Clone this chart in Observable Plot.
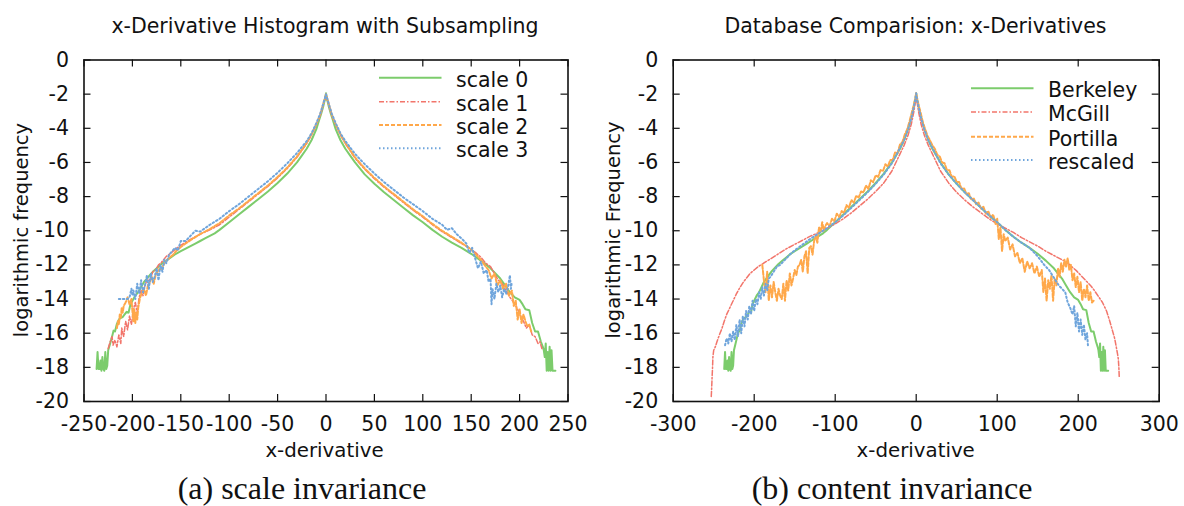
<!DOCTYPE html>
<html><head><meta charset="utf-8">
<script src="https://cdn.jsdelivr.net/npm/d3@7"></script>
<script src="https://cdn.jsdelivr.net/npm/@observablehq/plot@0.6"></script>
<style>
html,body{margin:0;padding:0;background:#fff;}
#wrap{position:relative;width:1184px;height:506px;overflow:hidden;background:#fff;}
#wrap svg{position:absolute;top:0;}
</style></head><body><div id="wrap"></div>
<script>
// ---------- tick values ----------
const yTicks = [0,-2,-4,-6,-8,-10,-12,-14,-16,-18,-20];
const xTicksA = [-250,-200,-150,-100,-50,0,50,100,150,200,250];
const xTicksB = [-300,-200,-100,0,100,200,300];

// ---------- panel (a): scale 0 (also Berkeley in panel b) ----------
const scale0X = [-237,-236,-235,-234,-233,-232,-231,-230,-229,-228,-227,-226,-225,-223,-221,-219.5,-218,-216,-214,-212,-210,-208,-206,-204,-202,-200,-197,-194,-191,-188,-185,-182,-178,-174,-170,-165,-160,-155,-150,-145,-140,-135,-130,-125,-120,-115,-110,-100,-90,-80,-70,-60,-50,-40,-30,-25,-20,-15,-10,-7,-5,-3,-2,-1,0,
  1,2,3,5,7,10,15,20,25,30,40,50,60,70,80,90,100,110,120,130,140,150,160,170,180,185,190,195,200,203,206,210,213,216,219,222,224,225,226,227,228,229,230,231,232,233,234,235,236,237];
const scale0Y = [-18.1,-17.1,-18.1,-18.1,-17.6,-18.2,-17.4,-18.1,-18.2,-17.1,-18.1,-17.9,-17.0,-16.6,-16.2,-15.85,-15.9,-15.45,-15.2,-15.1,-15.05,-14.9,-14.75,-14.8,-14.3,-14.1,-13.8,-13.6,-13.3,-13.0,-12.8,-12.6,-12.35,-12.15,-11.95,-11.75,-11.55,-11.35,-11.2,-11.05,-10.9,-10.75,-10.6,-10.45,-10.3,-10.15,-9.95,-9.5,-9.05,-8.6,-8.15,-7.7,-7.2,-6.65,-6.0,-5.6,-5.2,-4.7,-4.05,-3.5,-3.15,-2.75,-2.5,-2.3,-1.95,
  -2.3,-2.5,-2.75,-3.15,-3.5,-4.05,-4.7,-5.2,-5.6,-6.0,-6.7,-7.25,-7.75,-8.2,-8.65,-9.1,-9.5,-9.95,-10.35,-10.7,-11.0,-11.35,-11.75,-12.2,-12.8,-13.2,-13.6,-13.9,-14.05,-14.3,-14.6,-14.65,-15.4,-15.9,-15.9,-16.5,-16.8,-17.0,-17.4,-16.6,-18.2,-17.1,-18.2,-16.8,-18.2,-17.0,-18.2,-18.2,-18.2,-18.2];

const scale1X = [-225,-223,-221,-220,-218,-216,-214,-212,-211,-209,-207,-205,-203,-201,-199,-197,-195,-193,-191,-189,-187,-185,-182,-179,-176,-173,-170,-165,-160,-155,-150,-140,-130,-120,-110,-100,-90,-80,-70,-60,-50,-40,-30,-20,-15,-10,-6,-3,-1,0,
  1,3,6,10,15,20,30,40,50,60,70,80,90,100,110,120,130,140,145,150,155,160,165,170,174,178,182,186,190,194,198,201,204,207,210,213,216,219,221,223];
const scale1Y = [-16.9,-16.5,-16.2,-16.7,-16.4,-16.8,-16.1,-16.6,-15.7,-16.2,-15.3,-15.8,-15.0,-15.5,-14.6,-14.2,-14.8,-13.9,-13.5,-13.8,-13.2,-12.9,-12.9,-12.4,-12.3,-12.0,-11.85,-11.5,-11.3,-11.05,-10.85,-10.5,-10.2,-9.95,-9.65,-9.2,-8.75,-8.3,-7.85,-7.4,-6.9,-6.35,-5.7,-4.9,-4.4,-3.8,-3.25,-2.65,-2.25,-2.0,
  -2.25,-2.65,-3.25,-3.8,-4.4,-4.9,-5.75,-6.4,-6.95,-7.45,-7.9,-8.35,-8.8,-9.2,-9.65,-10.05,-10.4,-10.75,-10.9,-11.1,-11.3,-11.55,-11.9,-12.1,-12.5,-12.9,-13.1,-13.5,-13.9,-14.2,-14.6,-15.0,-15.3,-15.7,-15.5,-16.1,-16.2,-16.6,-16.5,-16.9];

const scale2X = [-216,-215,-214,-213,-212,-211,-210,-209,-207,-205,-203,-201,-200,-199,-198,-197,-196,-195,-194,-192,-190,-188,-186,-184,-182,-180,-178,-176,-174,-172,-170,-167,-164,-161,-158,-155,-150,-145,-140,-130,-120,-110,-100,-90,-80,-70,-60,-50,-40,-30,-20,-15,-10,-6,-3,-1,0,
  1,3,6,10,15,20,30,40,50,60,70,80,90,100,110,120,130,140,145,150,155,160,165,168,171,174,177,180,183,186,189,192,194,196,198,200,202,204,206,208,210,212];
const scale2Y = [-15.7,-15.3,-15.5,-14.9,-15.1,-14.5,-14.8,-14.4,-14.2,-13.9,-14.3,-14.0,-14.7,-15.3,-14.6,-15.4,-14.8,-15.2,-14.5,-13.9,-13.6,-13.4,-13.8,-13.2,-13.0,-12.7,-13.1,-12.6,-12.4,-12.2,-12.25,-11.9,-11.7,-11.55,-11.4,-11.2,-10.95,-10.75,-10.55,-10.2,-9.9,-9.55,-9.1,-8.7,-8.25,-7.8,-7.35,-6.85,-6.3,-5.65,-4.85,-4.35,-3.75,-3.2,-2.6,-2.2,-2.0,
  -2.2,-2.6,-3.2,-3.75,-4.35,-4.85,-5.7,-6.35,-6.9,-7.4,-7.85,-8.3,-8.75,-9.15,-9.6,-10.0,-10.35,-10.7,-10.9,-11.1,-11.4,-11.7,-12.1,-12.3,-12.8,-12.5,-13.2,-12.9,-13.4,-13.1,-13.8,-13.5,-14.4,-14.1,-15.2,-14.6,-15.4,-14.9,-15.3,-15.6,-15.5,-15.9];

const scale3X = [-214,-211,-208,-205,-203,-201,-200,-199,-197,-195,-193,-191,-189,-187,-185,-183,-181,-179,-177,-175,-173,-171,-169,-167,-165,-162,-159,-156,-153,-150,-145,-140,-135,-130,-120,-110,-100,-90,-80,-70,-60,-50,-40,-30,-20,-15,-10,-6,-3,-1,0,
  1,3,6,10,15,20,30,40,50,60,70,80,90,100,110,120,125,130,135,140,145,148,151,154,157,160,163,166,168,170,171,172,174,176,178,180,182,184,186,188,190,191,192];
const scale3Y = [-14.0,-14.0,-14.0,-14.0,-13.9,-13.4,-13.8,-13.5,-14.0,-13.1,-13.7,-12.9,-13.6,-13.2,-12.6,-13.4,-12.5,-13.0,-12.7,-12.2,-12.9,-12.0,-12.4,-11.7,-11.9,-11.4,-11.2,-11.0,-11.15,-10.6,-10.6,-10.3,-10.0,-10.05,-9.65,-9.3,-8.85,-8.45,-8.0,-7.55,-7.1,-6.6,-6.05,-5.45,-4.75,-4.3,-3.7,-3.15,-2.6,-2.2,-2.0,
  -2.2,-2.6,-3.15,-3.7,-4.3,-4.75,-5.5,-6.1,-6.65,-7.15,-7.6,-8.05,-8.45,-8.85,-9.3,-9.65,-9.95,-9.85,-10.2,-10.45,-10.75,-11.3,-11.0,-11.6,-12.2,-11.8,-12.5,-12.3,-13.0,-12.8,-14.3,-13.4,-14.0,-13.1,-13.6,-13.2,-13.9,-13.4,-13.7,-13.3,-12.6,-13.4,-13.0];

// ---------- panel (b) ----------
const berkeleyX = scale0X;
const berkeleyY = scale0Y;

const mcgillX = [-253,-252.5,-252,-251.5,-251,-250,-248,-246,-243,-240,-237,-234,-230,-226,-222,-218,-214,-210,-205,-200,-195,-190,-185,-180,-175,-170,-160,-150,-140,-130,-120,-110,-100,-90,-80,-70,-60,-50,-40,-30,-20,-15,-10,-6,-3,-1,0,
  1,3,6,10,15,20,30,40,50,60,70,80,90,100,110,120,130,140,150,160,170,180,186,192,198,204,210,216,220,225,230,235,239,242,245,247,248.5,249.5,250.2,250.7];
const mcgillY = [-19.7,-19.2,-18.6,-18.1,-17.4,-17.0,-16.8,-16.5,-16.1,-15.75,-15.3,-14.9,-14.5,-14.1,-13.7,-13.35,-13.05,-12.8,-12.5,-12.3,-12.1,-11.95,-11.8,-11.65,-11.5,-11.35,-11.05,-10.8,-10.55,-10.3,-10.1,-9.85,-9.6,-9.3,-8.95,-8.55,-8.15,-7.7,-7.2,-6.5,-5.5,-5.0,-4.4,-3.75,-3.05,-2.45,-1.95,
  -2.45,-3.05,-3.75,-4.4,-5.0,-5.5,-6.5,-7.2,-7.75,-8.2,-8.6,-8.95,-9.3,-9.6,-9.85,-10.1,-10.4,-10.65,-10.9,-11.2,-11.45,-11.7,-11.85,-12.1,-12.35,-12.65,-12.95,-13.25,-13.5,-13.85,-14.2,-14.7,-15.3,-15.8,-16.3,-16.8,-17.2,-17.5,-18.0,-18.6];

const portillaX = [-190,-188,-186,-184,-182,-180,-178,-176,-174,-172,-170,-168,-166,-164,-162,-160,-158,-156,-154,-152,-150,-148,-146,-144,-142,-140,-138,-136,-134,-132,-130,-128,-126,-124,-122,-120,-118,-116,-114,-112,
  -110,-107,-104,-101,-98,-95,-92,-89,-86,-83,-80,-77,-74,-71,-68,-65,-62,-59,-56,-53,-50,-47,-44,-41,-38,-35,-32,-29,-26,-23,-20,-17,-14,-11,-8,-5,-3,-1,0,
  1,3,5,8,11,14,17,20,23,26,29,32,35,38,41,44,47,50,53,56,59,62,65,68,71,74,77,80,83,86,89,92,95,
  98,100,102,104,106,108,110,113,116,119,122,125,128,131,134,137,140,143,146,149,152,155,157,159,161,163,165,167,169,171,173,175,177,179,181,183,185,187,189,191,193,195,197,199,201,203,205,207,209,211,213,215,217,219];
const portillaY = [-12.0,-12.9,-13.6,-12.4,-14.1,-13.2,-13.9,-13.0,-13.6,-14.1,-13.4,-13.8,-14.0,-13.1,-14.1,-12.9,-13.5,-12.5,-13.2,-12.8,-12.3,-12.6,-12.1,-12.0,-11.7,-12.4,-11.5,-11.2,-12.5,-11.0,-10.9,-11.4,-10.6,-10.3,-10.7,-9.8,-10.1,-9.5,-10.0,-9.7,
  -9.55,-9.75,-9.3,-9.45,-9.0,-9.2,-8.85,-8.95,-8.5,-8.65,-8.2,-8.35,-7.95,-8.05,-7.7,-7.75,-7.35,-7.55,-7.05,-7.15,-6.75,-6.85,-6.45,-6.5,-6.1,-6.25,-5.85,-5.85,-5.4,-5.45,-4.95,-4.8,-4.35,-4.05,-3.55,-3.0,-2.65,-2.2,-1.95,
  -2.2,-2.65,-3.0,-3.6,-4.05,-4.45,-4.7,-5.0,-5.2,-5.55,-5.65,-6.0,-6.05,-6.45,-6.45,-6.85,-6.8,-7.15,-7.15,-7.55,-7.5,-7.85,-7.8,-8.15,-8.1,-8.45,-8.35,-8.7,-8.6,-9.0,-8.85,-9.25,-9.05,
  -9.6,-9.3,-10.5,-9.8,-11.2,-10.2,-10.6,-10.4,-11.1,-10.8,-11.5,-11.3,-11.9,-11.6,-12.4,-11.8,-12.2,-11.9,-12.5,-12.1,-12.7,-12.3,-13.6,-12.8,-14.1,-12.9,-13.4,-12.6,-14.1,-12.8,-13.2,-12.2,-12.7,-11.9,-12.4,-11.7,-12.1,-11.6,-12.3,-12.0,-12.9,-12.5,-13.3,-12.7,-13.6,-13.0,-14.1,-13.4,-13.9,-13.2,-14.1,-13.6,-14.2,-14.1];

const rescaledX = [-236,-234,-232,-230,-228,-226,-224,-222,-220,-218,-216,-214,-212,-210,-208,-206,-204,-202,-200,-198,-196,-194,-192,-190,-188,-186,-184,-182,-180,-176,-172,-168,-164,-160,-155,-150,-140,-130,-120,-110,-100,-90,-80,-70,-60,-50,-40,-30,-20,-15,-10,-6,-3,-1,0,
  1,3,6,10,15,20,30,40,50,60,70,80,90,100,110,120,130,140,150,158,164,168,172,176,180,184,187,190,193,195,197,199,201,203,205,207,209,211,212];
const rescaledY = [-16.7,-16.3,-16.6,-16.0,-16.5,-15.9,-16.4,-15.5,-16.2,-15.2,-16.0,-15.0,-15.6,-14.7,-15.2,-14.4,-14.9,-14.1,-14.7,-14.0,-14.3,-13.6,-14.0,-13.3,-13.8,-13.1,-13.5,-12.8,-12.7,-12.4,-12.1,-12.0,-11.8,-11.6,-11.35,-11.15,-10.8,-10.45,-10.15,-9.85,-9.5,-9.1,-8.65,-8.2,-7.75,-7.25,-6.7,-6.05,-5.15,-4.7,-4.05,-3.4,-2.75,-2.3,-1.95,
  -2.3,-2.75,-3.4,-4.05,-4.7,-5.15,-6.05,-6.7,-7.25,-7.75,-8.2,-8.65,-9.1,-9.5,-9.95,-10.35,-10.7,-11.0,-11.5,-12.0,-12.3,-12.6,-12.9,-13.2,-13.4,-13.6,-14.2,-14.5,-14.9,-14.4,-15.6,-14.8,-15.9,-15.2,-16.1,-15.5,-16.4,-16.0,-16.7];

// ---------- labels ----------
const seriesNamesA = ["scale 0","scale 1","scale 2","scale 3"];
const seriesNamesB = ["Berkeley","McGill","Portilla","rescaled"];

// ---------- styles ----------
const STYLES = [
  {color:"#7ccc6c", width:2.0, dash:null},
  {color:"#f2756b", width:1.5, dash:"5,2,1.5,2"},
  {color:"#ffa84a", width:2.0, dash:"4,2"},
  {color:"#6fa5dc", width:2.0, dash:"1.5,2.5"}
];
const SANS = "'DejaVu Sans', Verdana, sans-serif";
const SERIF = "'Liberation Serif', 'Times New Roman', serif";

function rows(xs, ys){
  const n = Math.min(xs.length, ys.length);
  if (xs.length !== ys.length) console.warn("length mismatch", xs.length, ys.length);
  return d3.range(n).map(i => ({x: xs[i], y: ys[i]}));
}

function panel(o){
  const H = 506, mt = 59.5, mb = 105;
  const frameW = o.width - o.marginLeft - o.marginRight;
  const frameH = H - mt - mb;
  const fmt = d => String(d);
  const tk = 7;
  const svg = Plot.plot({
    width: o.width, height: H,
    marginLeft: o.marginLeft, marginRight: o.marginRight, marginTop: mt, marginBottom: mb,
    style: {fontFamily: SANS, fontSize: "20.5px", color: "#111", background: "white"},
    x: {domain: o.xDomain, label: null},
    y: {domain: [-20, 0], label: null},
    marks: [
      ...o.series.map((s, i) => Plot.line(rows(s.x, s.y), {
        x: "x", y: "y", stroke: STYLES[i].color, strokeWidth: STYLES[i].width,
        strokeDasharray: STYLES[i].dash, strokeLinejoin: "round"
      })),
      Plot.tickY(yTicks, {y: d => d, insetRight: frameW - tk, stroke: "#111", strokeWidth: 1.2}),
      Plot.tickY(yTicks, {y: d => d, insetLeft: frameW - tk, stroke: "#111", strokeWidth: 1.2}),
      Plot.tickX(o.xTicks, {x: d => d, insetBottom: frameH - tk, stroke: "#111", strokeWidth: 1.2}),
      Plot.tickX(o.xTicks, {x: d => d, insetTop: frameH - tk, stroke: "#111", strokeWidth: 1.2}),
      Plot.frame({stroke: "#111", strokeWidth: 1.6}),
      Plot.axisY(yTicks, {tickSize: 0, tickPadding: 15, tickFormat: fmt, label: null}),
      Plot.axisX(o.xTicks, {tickSize: 0, tickPadding: 15, tickFormat: fmt, label: null})
    ]
  });
  svg.style.left = o.left + "px";
  const s = d3.select(svg);
  // title
  s.append("text").attr("x", o.titleX).attr("y", 33.3).attr("text-anchor", "middle")
    .attr("font-family", SANS).attr("font-size", 20.5).attr("fill", "#111").text(o.title);
  // x label
  s.append("text").attr("x", o.xlabelX).attr("y", 456.5).attr("text-anchor", "middle")
    .attr("font-family", SANS).attr("font-size", 19.8).attr("fill", "#111").text("x-derivative");
  // y label
  s.append("text").attr("transform", `translate(${o.ylabelX},230) rotate(-90)`).attr("text-anchor", "middle")
    .attr("font-family", SANS).attr("font-size", 19.5).attr("fill", "#111").text(o.ylabel);
  // caption
  s.append("text").attr("x", o.captionX).attr("y", 499).attr("text-anchor", "middle")
    .attr("font-family", SERIF).attr("font-size", 32).attr("fill", "#111").text(o.caption);
  // legend
  o.names.forEach((name, i) => {
    const y = o.legendY[i];
    s.append("line").attr("x1", 379).attr("x2", 441.5).attr("y1", y).attr("y2", y)
      .attr("stroke", STYLES[i].color).attr("stroke-width", STYLES[i].width)
      .attr("stroke-dasharray", STYLES[i].dash);
    s.append("text").attr("x", 456).attr("y", y + 8.8).attr("text-anchor", "start")
      .attr("font-family", SANS).attr("font-size", 20.5).attr("fill", "#111").text(name);
  });
  return svg;
}

const wrap = document.getElementById("wrap");
wrap.appendChild(panel({
  left: 0, width: 592, marginLeft: 83.5, marginRight: 24.5,
  xDomain: [-250, 250], xTicks: xTicksA,
  series: [{x: scale0X, y: scale0Y}, {x: scale1X, y: scale1Y}, {x: scale2X, y: scale2Y}, {x: scale3X, y: scale3Y}],
  title: "x-Derivative Histogram with Subsampling", titleX: 325,
  xlabelX: 324.5, ylabel: "logarithmic frequency", ylabelX: 28.2,
  caption: "(a) scale invariance", captionX: 302,
  names: seriesNamesA, legendY: [77.7, 101.7, 125, 148.3]
}));
wrap.appendChild(panel({
  left: 592, width: 592, marginLeft: 80.7, marginRight: 25.3,
  xDomain: [-300, 300], xTicks: xTicksB,
  series: [{x: berkeleyX, y: berkeleyY}, {x: mcgillX, y: mcgillY}, {x: portillaX, y: portillaY}, {x: rescaledX, y: rescaledY}],
  title: "Database Comparision: x-Derivatives", titleX: 323.5,
  xlabelX: 323.7, ylabel: "logarithmic Frequency", ylabelX: 27.6,
  caption: "(b) content invariance", captionX: 300,
  names: seriesNamesB, legendY: [88.3, 112, 136.7, 160]
}));
</script>
</body></html>
